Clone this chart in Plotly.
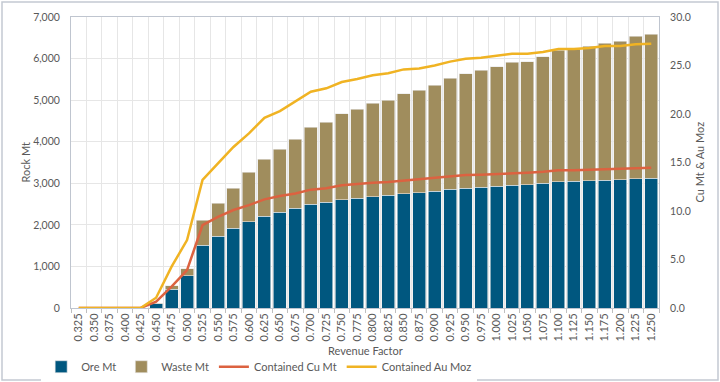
import plotly.graph_objects as go

categories = ["0.325","0.350","0.375","0.400","0.425","0.450","0.475","0.500","0.525","0.550",
              "0.575","0.600","0.625","0.650","0.675","0.700","0.725","0.750","0.775","0.800",
              "0.825","0.850","0.875","0.900","0.925","0.950","0.975","1.000","1.025","1.050",
              "1.075","1.100","1.125","1.150","1.175","1.200","1.225","1.250"]

ore_mt = [0,0,0,0,0,100,450,770,1515,1730,
          1916,2076,2213,2309,2397,2494,2542,2605,2638,2677,
          2710,2749,2773,2806,2854,2878,2902,2926,2958,2966,
          3006,3038,3046,3062,3070,3086,3110,3126]

total_mt = [0,0,0,0,0,120,530,940,2110,2518,
            2878,3263,3575,3815,4065,4345,4465,4673,4786,4930,
            5002,5154,5234,5356,5531,5640,5716,5803,5908,5924,
            6045,6205,6221,6301,6373,6413,6542,6590]

waste_mt = [t - o for t, o in zip(total_mt, ore_mt)]

cu_mt = [0,0,0,0,0,0.65,2.2,3.9,8.55,9.4,
         10.1,10.6,11.2,11.55,11.8,12.2,12.35,12.65,12.8,12.9,
         13.0,13.15,13.25,13.4,13.6,13.7,13.75,13.8,13.9,13.95,
         14.05,14.2,14.2,14.25,14.3,14.35,14.4,14.45]

au_moz = [0,0,0,0,0,1.06,4.26,7.0,13.2,14.9,
          16.6,18.0,19.6,20.3,21.3,22.3,22.65,23.3,23.6,24.0,
          24.2,24.6,24.7,25.0,25.4,25.7,25.8,26.0,26.2,26.2,
          26.4,26.7,26.7,26.8,27.0,27.0,27.2,27.25]

left_ticks = [0,1000,2000,3000,4000,5000,6000,7000]
right_ticks = [0,5,10,15,20,25,30]

FONT = "Lato, Liberation Sans, sans-serif"
GREY = "#595959"

fig = go.Figure()
fig.add_trace(go.Bar(x=categories, y=ore_mt, name="Ore Mt", marker=dict(color="#00577F", line=dict(color="#E8E8E8", width=0.6))))
fig.add_trace(go.Bar(x=categories, y=waste_mt, name="Waste Mt", marker=dict(color="#A08D5D", line=dict(color="#E8E8E8", width=0.6))))
fig.add_trace(go.Scatter(x=categories, y=cu_mt, name="Contained Cu Mt", yaxis="y2", mode="lines",
                         line=dict(color="#DC6240", width=2.5)))
fig.add_trace(go.Scatter(x=categories, y=au_moz, name="Contained Au Moz", yaxis="y2", mode="lines",
                         line=dict(color="#F0B323", width=2.5)))

pw, ph = 588, 291
l, r, t, b = 71, 61, 17, 74
fig.update_layout(
    width=720, height=382,
    margin=dict(l=l, r=r, t=t, b=b, autoexpand=False),
    barmode="stack", bargap=0.16,
    paper_bgcolor="white", plot_bgcolor="white",
    font=dict(family=FONT, size=11, color=GREY),
    xaxis=dict(type="category", tickangle=-90, tickson="boundaries", showgrid=True, gridcolor="#E6E6E6",
               ticks="outside", ticklen=4, tickcolor="#BFBFBF", showline=True, linecolor="#BFC5CF",
               automargin=False, tickfont=dict(size=11, color=GREY), mirror=True),
    yaxis=dict(range=[0,7000], tickvals=left_ticks, tickformat=",", showgrid=True, gridcolor="#E6E6E6",
               showline=True, linecolor="#BFC5CF", zeroline=False, automargin=False,
               ticklabelstandoff=8, tickfont=dict(size=10.5, color=GREY)),
    yaxis2=dict(range=[0,30], tickvals=right_ticks, tickformat=".1f", overlaying="y", side="right",
                showgrid=False, showline=True, linecolor="#BFC5CF", zeroline=False, automargin=False,
                ticklabelstandoff=8, tickfont=dict(size=10.5, color=GREY)),
    legend=dict(orientation="h", x=0.32, xanchor="center", yref="container", y=0.04, yanchor="middle",
                font=dict(size=11, color=GREY), traceorder="normal", itemwidth=30,
                tracegroupgap=0),
    annotations=[
        dict(text="Revenue Factor", xref="paper", yref="paper", x=0.5, y=-42 / ph,
             xanchor="center", yanchor="middle", showarrow=False, font=dict(size=11, color=GREY)),
        dict(text="Rock Mt", xref="paper", yref="paper", x=-46 / pw, y=0.5,
             xanchor="center", yanchor="middle", textangle=-90, showarrow=False,
             font=dict(size=11, color=GREY)),
        dict(text="Cu Mt & Au Moz", xref="paper", yref="paper", x=1 + 40 / pw, y=0.5,
             xanchor="center", yanchor="middle", textangle=-90, showarrow=False,
             font=dict(size=11, color=GREY)),
    ],
    shapes=[dict(type="rect", xref="paper", yref="paper",
                 x0=-(l - 2) / pw, x1=1 + (r - 2) / pw, y0=-(b - 2) / ph, y1=1 + (t - 2) / ph,
                 line=dict(color="#C3C9D2", width=1.5), fillcolor="rgba(0,0,0,0)", layer="below")],
)

fig.write_html("out.html", config={"displayModeBar": False},
               post_script="document.body.style.margin='0';")
